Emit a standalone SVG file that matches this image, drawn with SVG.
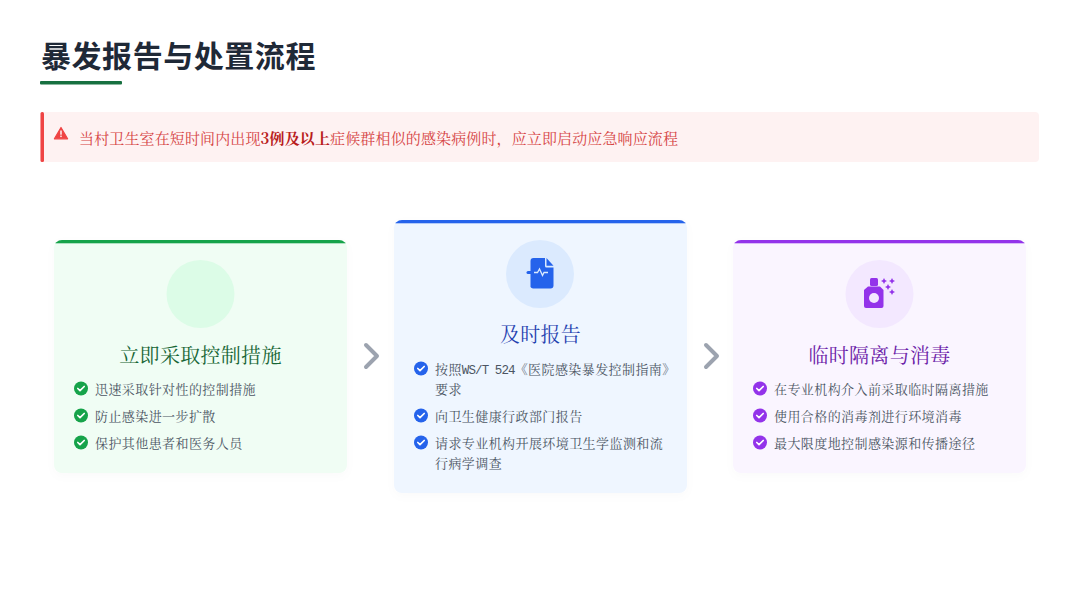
<svg xmlns="http://www.w3.org/2000/svg" width="1080" height="608" viewBox="0 0 1080 608">
<style>
.t{font-family:"Noto Serif CJK SC","Source Han Serif SC",serif}
.h{font-family:"Noto Sans CJK SC",sans-serif;font-weight:700;font-size:30px;letter-spacing:.55px;fill:#1f2937}
.al{font-size:15px;fill:#d64545;letter-spacing:.13px}
.ct{font-size:20px;letter-spacing:.3px;text-anchor:middle}
.li{font-size:13px;letter-spacing:.42px;fill:#4b5563}
.m{font-family:"Liberation Mono",monospace;font-size:12.500px;letter-spacing:-.9px}
.arr{fill:none;stroke:#9ca3af;stroke-width:4;stroke-linecap:round;stroke-linejoin:round}
</style>
<defs>
<filter id="sh" x="-10%" y="-10%" width="120%" height="125%"><feDropShadow dx="0" dy="3" stdDeviation="5" flood-color="#000" flood-opacity=".02"/></filter>
<g id="chk"><path d="M-3.2 0 L-1 2.2 L3.2 -2" fill="none" stroke="#fff" stroke-width="1.7" stroke-linecap="round" stroke-linejoin="round"/></g>
<clipPath id="c1"><rect x="54" y="240" width="293" height="233" rx="8"/></clipPath>
<clipPath id="c2"><rect x="394" y="220" width="293" height="273" rx="8"/></clipPath>
<clipPath id="c3"><rect x="733" y="240" width="293" height="233" rx="8"/></clipPath>
</defs>
<rect width="1080" height="608" fill="#fff"/>
<g id="header">
<text class="h" x="41" y="66.500">暴发报告与处置流程</text>
<rect x="40" y="81" width="82" height="3.500" rx="1" fill="#177040"/>
</g>
<g id="alert">
<rect x="40" y="112" width="999" height="50" rx="4" fill="#fef2f2"/>
<rect x="40.500" y="112" width="3.500" height="50" rx="1.500" fill="#ef4444"/>
<path d="M61 127.500 L67.600 138.800 H54.400 Z" fill="#ef4444" stroke="#ef4444" stroke-width="1.200" stroke-linejoin="round"/>
<rect x="60.300" y="130.500" width="1.400" height="4.200" fill="#fff"/><rect x="60.300" y="135.600" width="1.400" height="1.500" fill="#fff"/>
<text class="t al" x="79" y="144">当村卫生室在短时间内出现<tspan font-weight="700" fill="#b91c1c">3例及以上</tspan>症候群相似的感染病例时，应立即启动应急响应流程</text>
</g>
<g id="card-1">
<rect x="54" y="240" width="293" height="233" rx="8" fill="#f0fdf4" filter="url(#sh)"/>
<rect x="54" y="240" width="293" height="3.300" fill="#16a34a" clip-path="url(#c1)"/>
<circle cx="200.500" cy="294" r="34" fill="#dcfce7"/>
<text class="t ct" x="200.500" y="363" fill="#166534">立即采取控制措施</text>
<circle cx="81" cy="388.500" r="7" fill="#16a34a"/><use href="#chk" x="81" y="388.500"/>
<text class="t li" x="95" y="394">迅速采取针对性的控制措施</text>
<circle cx="81" cy="415.500" r="7" fill="#16a34a"/><use href="#chk" x="81" y="415.500"/>
<text class="t li" x="95" y="421">防止感染进一步扩散</text>
<circle cx="81" cy="442.500" r="7" fill="#16a34a"/><use href="#chk" x="81" y="442.500"/>
<text class="t li" x="95" y="448">保护其他患者和医务人员</text>
</g>
<g id="card-2">
<rect x="394" y="220" width="293" height="273" rx="8" fill="#eff6ff" filter="url(#sh)"/>
<rect x="394" y="220" width="293" height="3.300" fill="#2563eb" clip-path="url(#c2)"/>
<circle cx="540" cy="274" r="34" fill="#dbeafe"/>
<path d="M530.500 261 a3 3 0 0 1 3 -3 h11.500 v8 a1.500 1.500 0 0 0 1.500 1.500 h7 v18 a3 3 0 0 1 -3 3 h-17.500 a3 3 0 0 1 -2.500 -1.500 z" fill="#2563eb"/>
<path d="M546.500 258 l7 7.800 h-7z" fill="#2563eb"/>
<rect x="526.500" y="271" width="8" height="3" rx="1.500" fill="#2563eb"/>
<path d="M534 272.500 h3.500 l2 -3.500 l3 6.500 l1.500 -3 h4" fill="none" stroke="#dbeafe" stroke-width="1.300"/>
<text class="t ct" x="540.500" y="342" fill="#1e40af">及时报告</text>
<circle cx="421" cy="368.500" r="7" fill="#2563eb"/><use href="#chk" x="421" y="368.500"/>
<text class="t li" x="435" y="374">按照<tspan class="m">WS/T 524</tspan>《医院感染暴发控制指南》</text>
<text class="t li" x="435" y="394">要求</text>
<circle cx="421" cy="415.500" r="7" fill="#2563eb"/><use href="#chk" x="421" y="415.500"/>
<text class="t li" x="435" y="421">向卫生健康行政部门报告</text>
<circle cx="421" cy="442.500" r="7" fill="#2563eb"/><use href="#chk" x="421" y="442.500"/>
<text class="t li" x="435" y="448">请求专业机构开展环境卫生学监测和流</text>
<text class="t li" x="435" y="468">行病学调查</text>
</g>
<g id="card-3">
<rect x="733" y="240" width="293" height="233" rx="8" fill="#faf5ff" filter="url(#sh)"/>
<rect x="733" y="240" width="293" height="3.300" fill="#9333ea" clip-path="url(#c3)"/>
<circle cx="879.500" cy="294" r="34" fill="#f3e8ff"/>
<rect x="870" y="278" width="8" height="8" rx="1.500" fill="#9333ea"/>
<path d="M868 286.500 h12 l3.500 3.500 v16 a2 2 0 0 1 -2 2 h-15.500 a2 2 0 0 1 -2 -2 v-16z" fill="#9333ea"/>
<circle cx="874" cy="298" r="5" fill="#f3e8ff"/>
<g fill="#9333ea"><path d="M884 278 l1 2 l2 1 l-2 1 l-1 2 l-1 -2 l-2 -1 l2 -1z"/><path d="M892 278 l1 2 l2 1 l-2 1 l-1 2 l-1 -2 l-2 -1 l2 -1z"/><path d="M888 284 l1 2 l2 1 l-2 1 l-1 2 l-1 -2 l-2 -1 l2 -1z"/><path d="M892 289 l1 2 l2 1 l-2 1 l-1 2 l-1 -2 l-2 -1 l2 -1z"/></g>
<text class="t ct" x="879.500" y="363" fill="#6b21a8">临时隔离与消毒</text>
<circle cx="760" cy="388.500" r="7" fill="#9333ea"/><use href="#chk" x="760" y="388.500"/>
<text class="t li" x="774" y="394">在专业机构介入前采取临时隔离措施</text>
<circle cx="760" cy="415.500" r="7" fill="#9333ea"/><use href="#chk" x="760" y="415.500"/>
<text class="t li" x="774" y="421">使用合格的消毒剂进行环境消毒</text>
<circle cx="760" cy="442.500" r="7" fill="#9333ea"/><use href="#chk" x="760" y="442.500"/>
<text class="t li" x="774" y="448">最大限度地控制感染源和传播途径</text>
</g>
<g id="connectors">
<path class="arr" d="M366 345 L377 356 L366 367"/>
<path class="arr" d="M706 345 L717 356 L706 367"/>
</g>
</svg>
